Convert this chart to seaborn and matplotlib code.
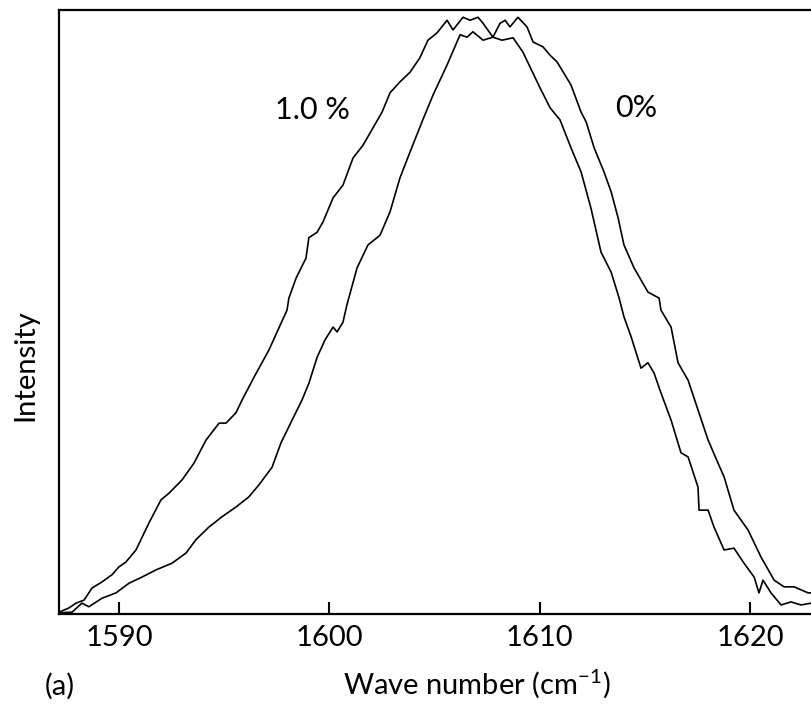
import numpy as np
import pandas as pd
import matplotlib
matplotlib.use("Agg")
import matplotlib.pyplot as plt
import seaborn as sns

# ---- data ----
wn_10 = [1587.15, 1587.62, 1587.96, 1588.34, 1588.72, 1589.19, 1589.67, 1590.00, 1590.33, 1590.81,
         1591.43, 1592.00, 1592.38, 1593.00, 1593.57, 1594.14, 1594.76, 1595.09, 1595.56, 1595.85,
         1596.42, 1597.13, 1597.61, 1597.99, 1598.08, 1598.42, 1598.89, 1599.03, 1599.42, 1599.70,
         1600.18, 1600.65, 1601.13, 1601.60, 1602.08, 1602.51, 1602.89, 1603.36, 1603.84, 1604.31,
         1604.69, 1605.12, 1605.60, 1605.88, 1606.36, 1606.69, 1607.07, 1607.31, 1607.78, 1608.21,
         1608.74, 1609.21, 1609.54, 1610.02, 1610.50, 1610.97, 1611.49, 1611.97, 1612.44, 1612.92,
         1613.40, 1613.78, 1614.01, 1614.35, 1614.82, 1615.15, 1615.44, 1615.77, 1616.25, 1616.72,
         1617.06, 1617.53, 1617.58, 1618.01, 1618.29, 1618.77, 1619.24, 1619.72, 1620.20, 1620.43,
         1620.62, 1621.00, 1621.48, 1621.95, 1622.43, 1622.91]
int_10 = [0.003, 0.010, 0.018, 0.023, 0.043, 0.053, 0.065, 0.078, 0.086, 0.106,
          0.151, 0.189, 0.200, 0.222, 0.250, 0.288, 0.316, 0.316, 0.333, 0.354,
          0.392, 0.437, 0.474, 0.503, 0.523, 0.556, 0.589, 0.623, 0.632, 0.649,
          0.689, 0.710, 0.755, 0.776, 0.805, 0.831, 0.863, 0.881, 0.897, 0.921,
          0.950, 0.962, 0.983, 0.967, 0.988, 0.983, 0.988, 0.978, 0.955, 0.950,
          0.954, 0.930, 0.906, 0.871, 0.838, 0.818, 0.772, 0.732, 0.672, 0.599,
          0.566, 0.523, 0.492, 0.459, 0.407, 0.416, 0.399, 0.366, 0.321, 0.267,
          0.260, 0.210, 0.172, 0.172, 0.144, 0.106, 0.109, 0.084, 0.061, 0.035,
          0.056, 0.035, 0.015, 0.020, 0.015, 0.018]

wn_0 = [1587.15, 1587.77, 1588.24, 1588.57, 1589.19, 1589.86, 1590.48, 1591.09, 1591.76, 1592.52,
        1593.19, 1593.66, 1594.28, 1594.90, 1595.56, 1596.18, 1596.66, 1597.28, 1597.70, 1598.23,
        1598.70, 1599.03, 1599.42, 1599.80, 1600.18, 1600.37, 1600.65, 1600.84, 1601.32, 1601.84,
        1602.41, 1602.89, 1603.36, 1603.84, 1604.41, 1604.93, 1605.60, 1606.07, 1606.22, 1606.55,
        1606.83, 1607.31, 1607.78, 1608.12, 1608.36, 1608.59, 1608.97, 1609.40, 1609.69, 1610.16,
        1610.50, 1610.83, 1611.49, 1611.97, 1612.21, 1612.59, 1613.06, 1613.40, 1613.73, 1614.01,
        1614.49, 1615.15, 1615.68, 1615.77, 1616.25, 1616.58, 1617.06, 1617.53, 1618.01, 1618.48,
        1618.77, 1619.24, 1619.91, 1620.53, 1621.15, 1621.62, 1622.10, 1622.76, 1622.95]
int_0 = [0.002, 0.003, 0.018, 0.012, 0.026, 0.035, 0.051, 0.061, 0.073, 0.084,
         0.101, 0.123, 0.144, 0.161, 0.177, 0.194, 0.214, 0.243, 0.283, 0.321,
         0.354, 0.382, 0.425, 0.454, 0.475, 0.467, 0.483, 0.512, 0.573, 0.611,
         0.627, 0.666, 0.722, 0.765, 0.815, 0.859, 0.909, 0.947, 0.959, 0.955,
         0.964, 0.950, 0.955, 0.978, 0.983, 0.972, 0.988, 0.972, 0.947, 0.939,
         0.925, 0.914, 0.876, 0.831, 0.815, 0.772, 0.732, 0.699, 0.656, 0.611,
         0.573, 0.533, 0.523, 0.503, 0.475, 0.416, 0.387, 0.338, 0.288, 0.250,
         0.227, 0.172, 0.139, 0.094, 0.056, 0.045, 0.045, 0.035, 0.035]

series_labels = ["1.0 %", "0%"]
x_ticks = [1590, 1600, 1610, 1620]

df = pd.concat([
    pd.DataFrame({"wn": wn_10, "I": int_10, "s": series_labels[0]}),
    pd.DataFrame({"wn": wn_0, "I": int_0, "s": series_labels[1]}),
])

sns.set_theme(style="white")
plt.rcParams["font.family"] = ["Lato", "DejaVu Sans"]
plt.rcParams["mathtext.fontset"] = "custom"
plt.rcParams["mathtext.rm"] = "Lato"

fig = plt.figure(figsize=(8.12, 7.08), dpi=100)
ax = fig.add_axes([59 / 812, 94 / 708, 1 - 59 / 812, 604 / 708])

sns.lineplot(data=df, x="wn", y="I", units="s", estimator=None, sort=False,
             color="black", linewidth=1.2, ax=ax, legend=False)

ax.set_xlim(1587.15, 1622.95)
ax.set_ylim(0, 1.0)
ax.set_xticks(x_ticks)
ax.set_xticklabels([str(t) for t in x_ticks])
ax.set_yticks([])
ax.tick_params(axis="x", direction="in", length=9, width=1.5, labelsize=21,
               pad=8, colors="black", bottom=True)
for side in ["left", "bottom", "top"]:
    ax.spines[side].set_visible(True)
    ax.spines[side].set_color("black")
    ax.spines[side].set_linewidth(1.6)
ax.spines["right"].set_visible(False)

ax.set_xlabel("Wave number (cm$^{-1}$)", fontsize=21, color="black")
ax.xaxis.set_label_coords(0.555, -0.088)
ax.set_ylabel("Intensity", fontsize=21, color="black")
ax.yaxis.set_label_coords(-0.028, 0.412)

ax.text(1599.22, 0.834, series_labels[0], fontsize=22, ha="center", va="center", color="black")
ax.text(1614.58, 0.838, series_labels[1], fontsize=22, ha="center", va="center", color="black")

fig.text(60 / 812, 1 - 686 / 708, "(a)", fontsize=21, ha="center", va="center", color="black")

fig.savefig("out.png", dpi=100)
